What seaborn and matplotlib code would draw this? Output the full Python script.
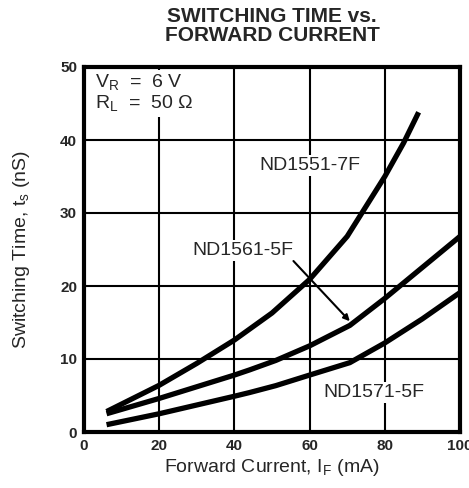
import matplotlib
matplotlib.use("Agg")
import matplotlib.pyplot as plt
import seaborn as sns
import pandas as pd

# ---- data ----
x_1551 = [6, 20, 30, 40, 50, 60, 70, 80, 85, 89]
y_1551 = [2.8, 6.4, 9.4, 12.6, 16.3, 20.9, 26.8, 35.0, 39.6, 43.8]

x_1561 = [6, 20, 40, 44, 51, 60, 70.7, 80, 84, 98.6, 100]
y_1561 = [2.5, 4.6, 7.8, 8.5, 9.8, 11.8, 14.6, 18.3, 20.0, 26.2, 26.8]

x_1571 = [6, 20, 40, 44, 51, 60, 70.7, 80, 90, 98.6, 100]
y_1571 = [1.0, 2.5, 4.9, 5.4, 6.35, 7.8, 9.5, 12.2, 15.5, 18.6, 19.1]

series_names = ["ND1551-7F", "ND1561-5F", "ND1571-5F"]
x_ticks = [0, 20, 40, 60, 80, 100]
y_ticks = [0, 10, 20, 30, 40, 50]

frames = []
for name, xs, ys in zip(series_names, [x_1551, x_1561, x_1571], [y_1551, y_1561, y_1571]):
    frames.append(pd.DataFrame({"IF": xs, "ts": ys, "device": name}))
df = pd.concat(frames, ignore_index=True)

sns.set_style("white")
plt.rcParams["font.family"] = ["Liberation Sans", "DejaVu Sans"]
plt.rcParams["mathtext.fontset"] = "custom"
plt.rcParams["mathtext.rm"] = "Liberation Sans"

fig = plt.figure(figsize=(4.69, 4.88), dpi=100)
ax = fig.add_axes([84 / 469, 1 - 432 / 488, (460 - 84) / 469, (432 - 67) / 488])

ax.set_xlim(0, 100)
ax.set_ylim(0, 50)
ax.set_xticks(x_ticks)
ax.set_yticks(y_ticks)
ax.grid(True, color="black", linewidth=1.5, zorder=1)
ax.set_axisbelow(True)

sns.lineplot(data=df, x="IF", y="ts", hue="device",
             palette=["black"] * 3, linewidth=3.8, legend=False, ax=ax,
             zorder=3, sort=False)
for line in ax.get_lines():
    line.set_solid_capstyle("butt")
    line.set_solid_joinstyle("round")

for s in ax.spines.values():
    s.set_visible(True)
    s.set_color("black")
    s.set_linewidth(3)

ax.tick_params(axis="both", length=0, labelsize=11, pad=5)
for lab in ax.get_xticklabels() + ax.get_yticklabels():
    lab.set_fontweight("bold")

ax.set_xlabel(r"Forward Current, I$_\mathregular{F}$ (mA)", fontsize=14, labelpad=3)
ax.set_ylabel(r"Switching Time, t$_\mathregular{s}$ (nS)", fontsize=14, labelpad=20)

fig.text(0.5 * (84 + 460) / 469, 1 - 7 / 488, "SWITCHING TIME vs.\nFORWARD CURRENT",
         ha="center", va="top", fontsize=15, fontweight="bold", linespacing=1.0)

white = dict(facecolor="white", edgecolor="none", pad=1.5)
ax.text(3.0, 49.2, r"V$_\mathregular{R}$  =  6 V" + "\n" + r"R$_\mathregular{L}$  =  50 $\Omega$",
        ha="left", va="top", fontsize=14, linespacing=1.05,
        bbox=dict(facecolor="white", edgecolor="none", pad=2), zorder=4)

ax.text(60.1, 36.5, "ND1551-7F", ha="center", va="center", fontsize=14, bbox=white, zorder=4)
ax.text(42.2, 24.9, "ND1561-5F", ha="center", va="center", fontsize=14, bbox=white, zorder=4)
ax.text(77.1, 5.45, "ND1571-5F", ha="center", va="center", fontsize=14, bbox=white, zorder=4)

ax.annotate("", xy=(71.2, 14.9), xytext=(55.2, 23.7),
            arrowprops=dict(arrowstyle="-|>", color="black", lw=1.5, mutation_scale=9),
            zorder=5)

fig.savefig("out.png", dpi=100)
